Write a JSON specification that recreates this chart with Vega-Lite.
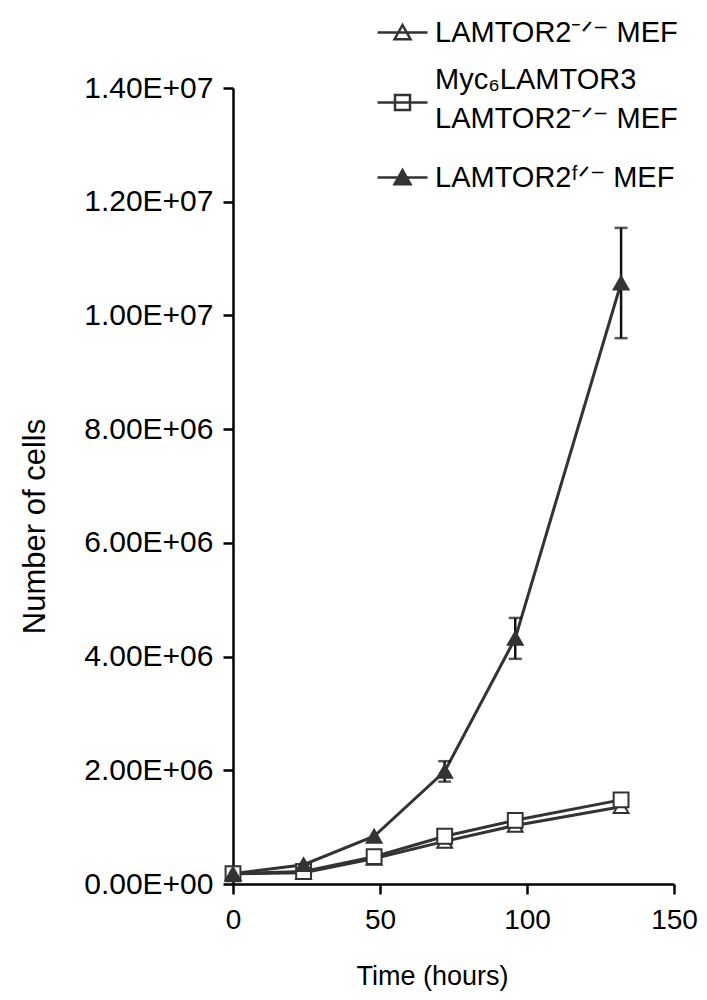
{
  "$schema": "https://vega.github.io/schema/vega-lite/v6.json",
  "width": 441,
  "height": 796,
  "autosize": {"type": "none"},
  "padding": {"left": 233, "top": 88, "right": 33, "bottom": 116},
  "background": "white",
  "config": {
    "view": {"stroke": null},
    "font": "Liberation Sans",
    "axis": {"grid": false, "domainColor": "black", "domainWidth": 2.5, "tickColor": "black", "tickWidth": 2.5, "tickSize": 10, "labelColor": "black", "titleColor": "black", "labelFont": "Liberation Sans", "titleFont": "Liberation Sans", "titleFontWeight": "normal", "labelFontSize": 28, "titleFontSize": 27, "labelFlush": false}
  },
  "data": {
    "values": [
      {"series": "ko", "time": 0, "cells": 180000},
      {"series": "ko", "time": 24, "cells": 200000},
      {"series": "ko", "time": 48, "cells": 450000},
      {"series": "ko", "time": 72, "cells": 750000},
      {"series": "ko", "time": 96, "cells": 1030000},
      {"series": "ko", "time": 132, "cells": 1360000},
      {"series": "myc", "time": 0, "cells": 180000},
      {"series": "myc", "time": 24, "cells": 220000},
      {"series": "myc", "time": 48, "cells": 480000},
      {"series": "myc", "time": 72, "cells": 840000},
      {"series": "myc", "time": 96, "cells": 1120000},
      {"series": "myc", "time": 132, "cells": 1480000},
      {"series": "flox", "time": 0, "cells": 180000},
      {"series": "flox", "time": 24, "cells": 340000},
      {"series": "flox", "time": 48, "cells": 840000},
      {"series": "flox", "time": 72, "cells": 1980000, "lo": 1800000, "hi": 2160000},
      {"series": "flox", "time": 96, "cells": 4320000, "lo": 3960000, "hi": 4680000},
      {"series": "flox", "time": 132, "cells": 10570000, "lo": 9600000, "hi": 11540000}
    ]
  },
  "layer": [
    {
      "mark": {"type": "line", "strokeWidth": 3},
      "encoding": {
        "x": {"field": "time", "type": "quantitative", "scale": {"domain": [0, 150], "nice": false}, "axis": {"values": [0, 50, 100, 150], "title": "Time (hours)", "labelPadding": 12, "titleX": 199, "titleY": 92, "titleBaseline": "middle"}},
        "y": {"field": "cells", "type": "quantitative", "scale": {"domain": [0, 14000000], "nice": false}, "axis": {"values": [0, 2000000, 4000000, 6000000, 8000000, 10000000, 12000000, 14000000], "title": "Number of cells", "titleFontSize": 31, "labelFontSize": 30, "labelPadding": 10, "titleX": -198, "titleY": 438, "titleBaseline": "middle", "labelExpr": "datum.value == 0 ? '0.00E+00' : format(datum.value / pow(10, floor(log(datum.value) / LN10 + 1e-9)), '.2f') + 'E+' + (floor(log(datum.value) / LN10 + 1e-9) < 10 ? '0' : '') + floor(log(datum.value) / LN10 + 1e-9)"}},
        "stroke": {"field": "series", "type": "nominal", "scale": {"domain": ["ko", "myc", "flox"], "range": ["#333333", "#333333", "#333333"]}, "legend": {
          "title": null, "orient": "none", "legendX": 143, "legendY": -82, "padding": 0, "offset": 0,
          "symbolSize": 2500, "symbolStrokeWidth": 2.5, "labelOffset": 6, "rowPadding": 17,
          "labelFont": "Liberation Sans", "labelFontSize": 29, "labelColor": "black", "labelLimit": 400,
          "labelExpr": "datum.value == 'ko' ? 'LAMTOR2⁻ᐟ⁻ MEF' : datum.value == 'myc' ? ['Myc₆LAMTOR3', 'LAMTOR2⁻ᐟ⁻ MEF'] : 'LAMTOR2ᶠᐟ⁻ MEF'",
          "encode": {
            "symbols": {"update": {
              "shape": {"signal": "datum.value == 'myc' ? 'M-1,0H1M-0.3,-0.3H0.3V0.3H-0.3Z' : 'M-1,0H1M-0.32,0.27L0,-0.3L0.32,0.27Z'"},
              "fill": {"signal": "datum.value == 'flox' ? '#333333' : 'white'"},
              "strokeWidth": {"value": 2.5}
            }},
            "labels": {"update": {
              "lineHeight": {"value": 39},
              "dy": {"signal": "datum.value == 'myc' ? -23 : 0"}
            }}
          }
        }}
      }
    },
    {
      "mark": {"type": "rule", "color": "#111111", "strokeWidth": 2.5},
      "encoding": {
        "x": {"field": "time", "type": "quantitative"},
        "y": {"field": "lo", "type": "quantitative"},
        "y2": {"field": "hi"}
      }
    },
    {
      "mark": {"type": "tick", "color": "#111111", "thickness": 2.5, "size": 13, "orient": "horizontal"},
      "encoding": {
        "x": {"field": "time", "type": "quantitative"},
        "y": {"field": "lo", "type": "quantitative"}
      }
    },
    {
      "mark": {"type": "tick", "color": "#111111", "thickness": 2.5, "size": 13, "orient": "horizontal"},
      "encoding": {
        "x": {"field": "time", "type": "quantitative"},
        "y": {"field": "hi", "type": "quantitative"}
      }
    },
    {
      "mark": {"type": "point", "filled": true, "stroke": "#333333", "strokeWidth": 2, "size": 220, "opacity": 1},
      "encoding": {
        "x": {"field": "time", "type": "quantitative"},
        "y": {"field": "cells", "type": "quantitative"},
        "shape": {"field": "series", "type": "nominal", "scale": {"domain": ["flox", "ko", "myc"], "range": ["triangle-up", "triangle-up", "square"]}, "legend": null},
        "fill": {"field": "series", "type": "nominal", "scale": {"domain": ["flox", "ko", "myc"], "range": ["#333333", "white", "white"]}, "legend": null}
      }
    }
  ]
}
